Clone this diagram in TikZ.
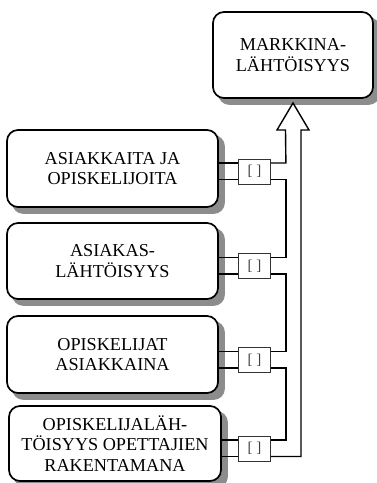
\documentclass[tikz,border=0pt]{standalone}
\usepackage{fontspec}
\setmainfont{Liberation Serif}
\pgfdeclarelayer{background}
\pgfsetlayers{background,main}
\begin{document}
\begin{tikzpicture}[x=1pt,y=-1pt,
  card/.style={draw=black, line width=1.7pt, rounded corners=11pt, fill=white,
    align=center, inner sep=0pt,
    font=\fontsize{18.2}{20.5}\selectfont},
  shade box/.style={fill=black!45, rounded corners=11pt},
  tag/.style={draw=black!80, line width=0.8pt, fill=white, minimum width=32pt,
    minimum height=25pt, inner sep=0pt, text=black!75,
    font=\fontsize{15}{17}\selectfont},
  conn/.style={draw=black, line width=1.4pt, line join=miter}]
  \useasboundingbox (0,0) rectangle (377,483);

  % target box
  \node[card, minimum width=160pt, minimum height=86pt] (mk) at (293,55)
    {MARKKINA-\\LÄHTÖISYYS};

  % source boxes
  \node[card, minimum width=211pt, minimum height=77pt] (b1) at (112.5,168.5)
    {ASIAKKAITA JA\\OPISKELIJOITA};
  \node[card, minimum width=211pt, minimum height=76pt] (b2) at (112.5,261)
    {ASIAKAS-\\LÄHTÖISYYS};
  \node[card, minimum width=211pt, minimum height=77pt] (b3) at (112.5,354.5)
    {OPISKELIJAT\\ASIAKKAINA};
  \node[card, minimum width=212pt, minimum height=75pt] (b4) at (115,443.5)
    {OPISKELIJALÄH-\\TÖISYYS OPETTAJIEN\\RAKENTAMANA};

  % grey drop shadows behind the boxes
  \begin{pgfonlayer}{background}
    \foreach \n in {mk,b1,b2,b3,b4}{
      \fill[shade box] ([shift={(6,6)}]\n.north west) rectangle
        ([shift={(6,6)}]\n.south east);
    }
  \end{pgfonlayer}

  % small bracket tags
  \node[tag] (s1) at (254.5,171.5) {[ ]};
  \node[tag] (s2) at (254.5,266) {[ ]};
  \node[tag] (s3) at (254.5,360) {[ ]};
  \node[tag] (s4) at (254.5,448.5) {[ ]};

  % box-to-tag double lines
  \foreach \b/\s in {b1/s1,b2/s2,b3/s3,b4/s4}{
    \draw[conn] ([yshift=8.5pt]\s.west) -- ([yshift=8.5pt]\s.west -| \b.east);
    \draw[conn] ([yshift=-8pt]\s.west) -- ([yshift=-8pt]\s.west -| \b.east);
  }

  % stepped links between tags
  \draw[conn] ([yshift=-8pt]s1.east) -- ++(15,0) |- ([yshift=8.5pt]s2.east);
  \draw[conn] ([yshift=-8pt]s2.east) -- ++(15,0) |- ([yshift=8.5pt]s3.east);
  \draw[conn] ([yshift=-8pt]s3.east) -- ++(15,0) |- ([yshift=8.5pt]s4.east);

  % hollow arrow up to the target
  \coordinate (tip) at (293,103);
  \draw[conn] ([yshift=8.5pt]s1.east) -- ++(15,0) -- (285.5,130) -- (277,130)
    -- (tip) -- (309,130) -- (301,130) |- ([yshift=-8pt]s4.east);
\end{tikzpicture}
\end{document}
